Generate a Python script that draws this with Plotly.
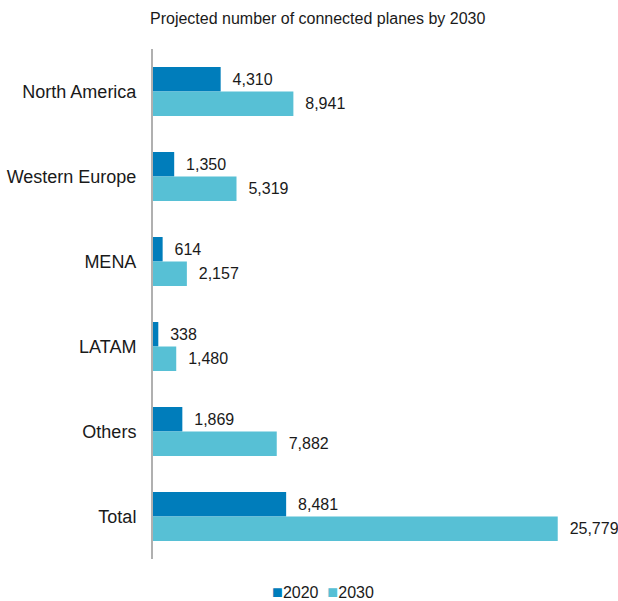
import plotly.graph_objects as go

categories = ["North America", "Western Europe", "MENA", "LATAM", "Others", "Total"]
values_2020 = [4310, 1350, 614, 338, 1869, 8481]
values_2030 = [8941, 5319, 2157, 1480, 7882, 25779]
series_names = ["2020", "2030"]
title_text = "Projected number of connected planes by 2030"

c2020 = "#007dbb"
c2030 = "#57c0d5"
colors = [c2020, c2030]

fig = go.Figure()
for name, vals, col in zip(series_names, [values_2020, values_2030], colors):
    fig.add_trace(go.Bar(
        y=categories, x=vals, name=name, orientation="h",
        marker=dict(color=col, line=dict(width=0)),
        text=["\u00a0\u00a0" + f"{v:,}" for v in vals],
        textposition="outside", cliponaxis=False,
        textfont=dict(family="Liberation Sans, Arial", size=16, color="#1a1a1a"),
    ))

legend_html = "\u00a0\u00a0".join(
    f"<span style='color:{c}; font-size:18px'>■</span>{n}" for n, c in zip(series_names, colors)
)
fig.add_annotation(text=legend_html, xref="paper", yref="paper",
                   x=(322.5 - 153) / 457, xanchor="center",
                   y=-(592 - 559) / 510, yanchor="middle", showarrow=False,
                   font=dict(size=16, color="#1a1a1a"))

fig.update_layout(
    width=618, height=601,
    margin=dict(l=153, r=8, t=49, b=42),
    paper_bgcolor="white", plot_bgcolor="white",
    barmode="group", bargap=0.424, bargroupgap=0,
    font=dict(family="Liberation Sans, Arial", size=16, color="#1a1a1a"),
    title=dict(text=title_text, x=150/618, xref="container", xanchor="left",
               y=1-18/601, yref="container", yanchor="middle",
               font=dict(size=16, color="#1a1a1a")),
    showlegend=False,
)
fig.update_xaxes(range=[0, 29108], showgrid=False, showticklabels=False, zeroline=False,
                 showline=False, ticks="")
fig.update_yaxes(autorange="reversed", showgrid=False, showline=True, linecolor="#b0b0b0",
                 linewidth=2, ticks="outside", ticklen=11, tickcolor="rgba(0,0,0,0)",
                 tickfont=dict(size=18), zeroline=False)

fig.write_html("out.html")
